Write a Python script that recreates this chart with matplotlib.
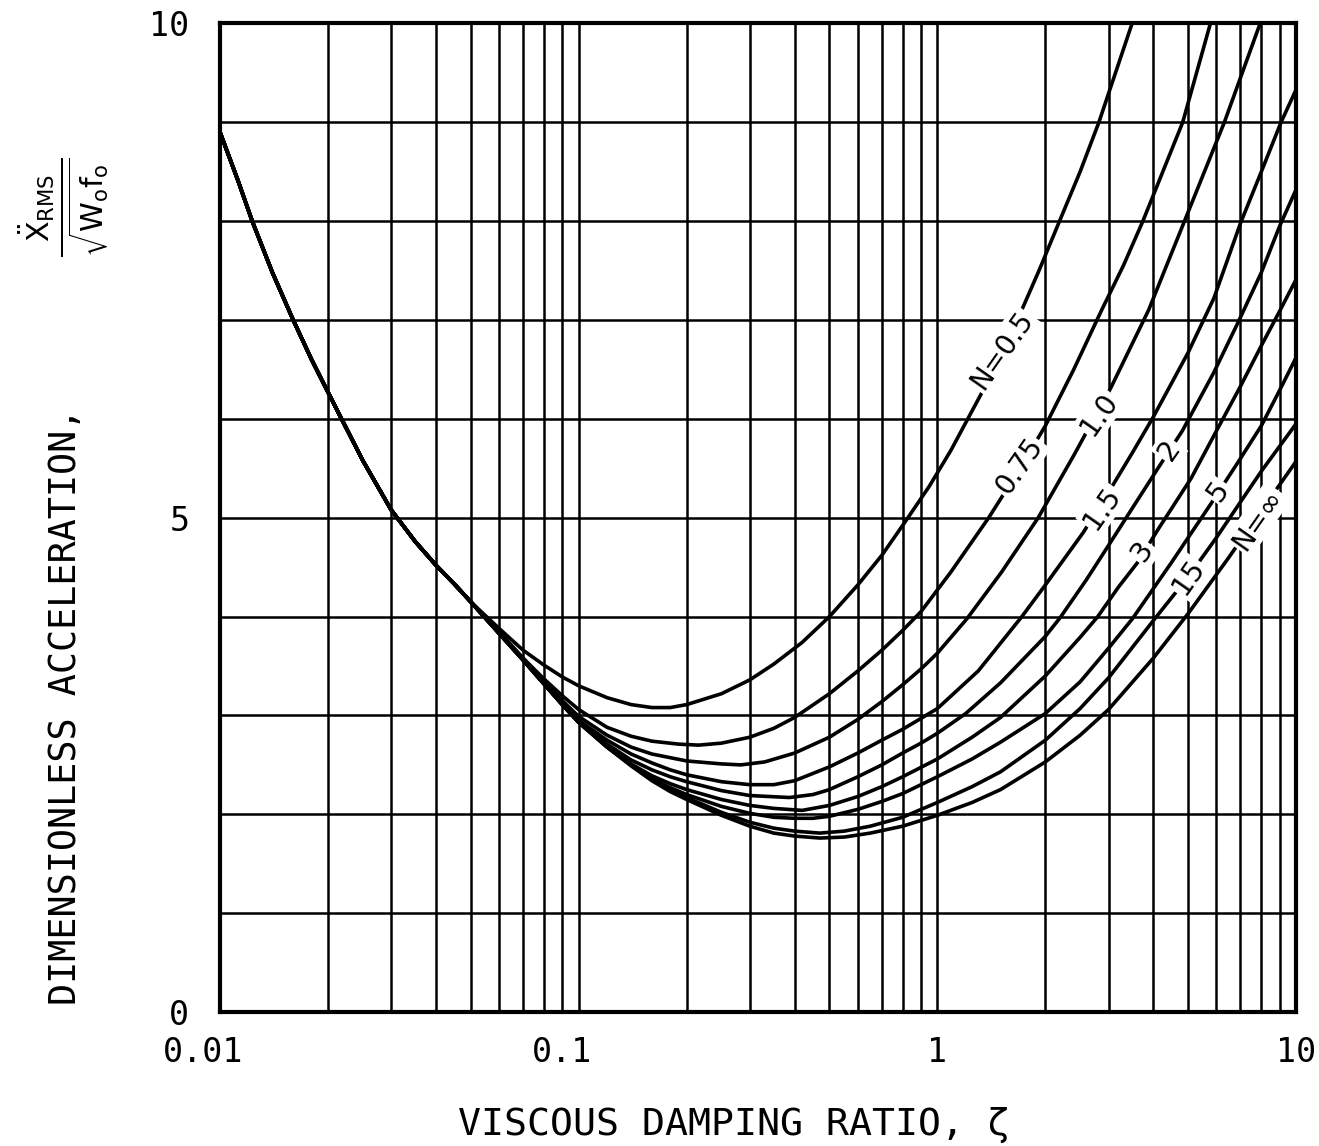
import numpy as np
import matplotlib
matplotlib.use("Agg")
from matplotlib import pyplot as plt
from matplotlib import transforms
from matplotlib.ticker import FixedLocator, LogLocator, NullFormatter

plt.rcParams["mathtext.fontset"] = "dejavusans"

# part shared by every curve (small damping)
zeta_shared = [0.01, 0.0112, 0.0123, 0.014, 0.016, 0.018, 0.02, 0.025, 0.03, 0.035,
               0.04, 0.045, 0.05]
acc_shared = [8.90, 8.42, 8.00, 7.48, 7.00, 6.60, 6.27, 5.58, 5.08, 4.76,
              4.52, 4.33, 4.15]

# N = 0.5
zeta_n05 = [0.06, 0.07, 0.08, 0.09, 0.1, 0.12, 0.14, 0.16, 0.18, 0.2, 0.25, 0.3, 0.35,
            0.42, 0.5, 0.6, 0.7, 0.81, 0.95, 1.09, 1.36, 1.69, 1.92, 2.19, 2.5, 2.82, 3.49]
acc_n05 = [3.88, 3.66, 3.51, 3.39, 3.30, 3.18, 3.11, 3.08, 3.08, 3.11, 3.22, 3.36, 3.52,
           3.74, 4.0, 4.32, 4.62, 4.95, 5.32, 5.68, 6.33, 7.04, 7.50, 8.0, 8.5, 9.0, 10.0]

# N = 0.75
zeta_n075 = [0.06, 0.07, 0.08, 0.09, 0.1, 0.12, 0.14, 0.16, 0.19, 0.216, 0.25, 0.3,
             0.35, 0.4, 0.5, 0.6, 0.7, 0.8, 0.9, 1.09, 1.39, 1.7, 2.0, 2.4, 2.87, 3.3,
             3.74, 4.83, 5.77]
acc_n075 = [3.85, 3.58, 3.37, 3.20, 3.06, 2.88, 2.79, 2.74, 2.71, 2.70, 2.72, 2.78,
            2.87, 2.98, 3.22, 3.45, 3.66, 3.86, 4.05, 4.45, 5.0, 5.5, 5.93, 6.5, 7.1, 7.55,
            8.0, 9.0, 10.0]

# N = 1.0
zeta_n1 = [0.07, 0.08, 0.09, 0.1, 0.12, 0.14, 0.16, 0.2, 0.25, 0.283, 0.33, 0.4, 0.5,
           0.6, 0.7, 0.8, 0.9, 1.0, 1.21, 1.51, 1.91, 2.4, 3.05, 3.88, 4.86, 6.31, 7.94]
acc_n1 = [3.57, 3.35, 3.15, 2.99, 2.80, 2.68, 2.61, 2.54, 2.51, 2.50, 2.53, 2.62, 2.78,
          2.96, 3.14, 3.31, 3.47, 3.63, 3.98, 4.45, 5.0, 5.63, 6.32, 7.1, 7.98, 9.0, 10.0]

# N = 1.5
zeta_n15 = [0.08, 0.09, 0.1, 0.12, 0.14, 0.16, 0.18, 0.2, 0.25, 0.3, 0.35, 0.4, 0.5,
            0.6, 0.7, 0.8, 0.9, 1.0, 1.3, 1.72, 2.0, 2.55, 3.05, 3.5, 4.0, 5.0, 5.9,
            7.0, 8.0, 9.08, 10.0]
acc_n15 = [3.33, 3.12, 2.95, 2.75, 2.61, 2.52, 2.45, 2.40, 2.33, 2.30, 2.30, 2.34, 2.48,
           2.62, 2.75, 2.86, 2.97, 3.07, 3.45, 4.0, 4.32, 4.85, 5.30, 5.66, 6.02, 6.67, 7.22,
           7.98, 8.5, 9.0, 9.33]

# N = 2
zeta_n2 = [0.06, 0.07, 0.08, 0.09, 0.1, 0.12, 0.14, 0.16, 0.18, 0.2, 0.25, 0.3, 0.387,
           0.45, 0.5, 0.6, 0.7, 0.8, 0.9, 1.0, 1.2, 1.5, 2.0, 2.2, 2.6, 3.0, 3.5, 4.12,
           4.82, 5.9, 6.9, 8.0, 9.0, 10.0]
acc_n2 = [3.83, 3.56, 3.32, 3.11, 2.94, 2.71, 2.55, 2.45, 2.38, 2.33, 2.24, 2.19, 2.17,
          2.20, 2.25, 2.38, 2.50, 2.62, 2.72, 2.82, 3.02, 3.33, 3.80, 3.99, 4.37, 4.72,
          5.10, 5.50, 5.88, 6.47, 6.98, 7.48, 7.95, 8.32]

# N = 3
zeta_n3 = [0.06, 0.07, 0.08, 0.09, 0.1, 0.12, 0.14, 0.16, 0.18, 0.2, 0.25, 0.3, 0.35,
           0.42, 0.5, 0.6, 0.7, 0.8, 1.0, 1.25, 1.5, 2.0, 2.5, 2.8, 3.2, 3.62, 4.12, 5.1,
           6.0, 7.0, 8.0, 9.0, 10.0]
acc_n3 = [3.83, 3.56, 3.32, 3.11, 2.93, 2.69, 2.51, 2.39, 2.31, 2.25, 2.15, 2.09, 2.06,
          2.04, 2.09, 2.18, 2.28, 2.38, 2.56, 2.78, 2.98, 3.40, 3.79, 4.0, 4.30, 4.55, 4.88,
          5.40, 5.88, 6.33, 6.74, 7.09, 7.41]

# N = 5
zeta_n5 = [0.06, 0.07, 0.08, 0.09, 0.1, 0.12, 0.14, 0.16, 0.18, 0.2, 0.25, 0.3, 0.35,
           0.4, 0.45, 0.5, 0.6, 0.7, 0.8, 1.0, 1.25, 1.5, 2.0, 2.5, 3.0, 3.5, 4.5, 5.86,
           7.0, 8.0, 9.0, 10.0]
acc_n5 = [3.83, 3.56, 3.32, 3.11, 2.93, 2.68, 2.50, 2.36, 2.27, 2.20, 2.08, 2.01, 1.97,
          1.96, 1.96, 1.98, 2.05, 2.13, 2.21, 2.38, 2.56, 2.73, 3.02, 3.34, 3.68, 3.98,
          4.55, 5.17, 5.60, 5.93, 6.29, 6.62]

# N = 15
zeta_n15b = [0.06, 0.07, 0.08, 0.09, 0.1, 0.12, 0.14, 0.16, 0.18, 0.2, 0.25, 0.3, 0.35,
             0.4, 0.47, 0.55, 0.65, 0.8, 1.0, 1.25, 1.5, 2.0, 2.5, 3.0, 4.0, 5.0, 6.0,
             7.0, 8.0, 10.0]
acc_n15b = [3.83, 3.56, 3.32, 3.11, 2.93, 2.68, 2.50, 2.35, 2.25, 2.17, 2.02, 1.92, 1.86,
            1.83, 1.81, 1.83, 1.88, 1.97, 2.12, 2.28, 2.43, 2.75, 3.07, 3.38, 3.96, 4.40,
            4.80, 5.16, 5.47, 5.95]

# N = infinity
zeta_ninf = [0.06, 0.07, 0.08, 0.09, 0.1, 0.12, 0.14, 0.16, 0.18, 0.2, 0.25, 0.3, 0.35,
             0.4, 0.47, 0.55, 0.65, 0.8, 1.0, 1.25, 1.5, 2.0, 2.5, 3.0, 4.0, 5.0, 6.47,
             8.0, 10.0]
acc_ninf = [3.83, 3.56, 3.32, 3.11, 2.93, 2.68, 2.49, 2.34, 2.23, 2.15, 1.99, 1.88, 1.81,
            1.78, 1.76, 1.77, 1.81, 1.88, 1.99, 2.12, 2.25, 2.53, 2.80, 3.06, 3.58, 4.03,
            4.59, 5.07, 5.57]

curves = [(zeta_n05, acc_n05), (zeta_n075, acc_n075), (zeta_n1, acc_n1),
          (zeta_n15, acc_n15), (zeta_n2, acc_n2), (zeta_n3, acc_n3),
          (zeta_n5, acc_n5), (zeta_n15b, acc_n15b), (zeta_ninf, acc_ninf)]

# curve labels, placed on the curves
label_text = ["N=0.5", "0.75", "1.0", "1.5", "2", "3", "5", "15", "N=\u221e"]
label_zeta = [1.51, 1.69, 2.83, 2.88, 4.43, 3.72, 6.06, 5.0, 7.83]
label_acc = [6.69, 5.52, 6.05, 5.10, 5.68, 4.66, 5.27, 4.40, 4.98]

x_ticks = [0.01, 0.1, 1, 10]
x_ticklabels = ["0.01", "0.1", "1", "10"]
y_ticks = [0, 5, 10]

mono = "DejaVu Sans Mono"

fig = plt.figure(figsize=(13.19, 11.46), dpi=100)
ax = fig.add_axes([0.1668, 0.1169, 0.8158, 0.8626])

for zeta, acc in curves:
    ax.plot(zeta_shared + zeta, acc_shared + acc, color="black", lw=2.6,
            solid_joinstyle="round", solid_capstyle="round", zorder=3)

for text, x, y in zip(label_text, label_zeta, label_acc):
    ax.text(x, y, text, rotation=55, ha="center", va="center", rotation_mode="anchor",
            fontsize=20, family="DejaVu Sans", zorder=4,
            bbox=dict(facecolor="white", edgecolor="none", pad=1.5))

###
# axes / grid
ax.set_xscale("log")
ax.set_xlim(0.01, 10)
ax.set_ylim(0, 10)
ax.xaxis.set_major_locator(FixedLocator(x_ticks))
ax.xaxis.set_minor_locator(LogLocator(base=10, subs=np.arange(2, 10)))
ax.xaxis.set_minor_formatter(NullFormatter())
ax.set_xticklabels(x_ticklabels)
ax.yaxis.set_major_locator(FixedLocator(y_ticks))
ax.yaxis.set_minor_locator(FixedLocator(list(range(11))))
ax.grid(which="both", color="black", lw=1.8, zorder=1)
ax.set_axisbelow(True)
ax.tick_params(which="both", length=0)
ax.tick_params(axis="x", pad=17, labelsize=24)
ax.tick_params(axis="y", pad=22, labelsize=24)
for lbl in ax.get_xticklabels() + ax.get_yticklabels():
    lbl.set_family(mono)
for spine in ax.spines.values():
    spine.set_linewidth(3)

# the two small labels sit a bit left of their tick
shift = transforms.ScaledTranslation(-0.17, 0, fig.dpi_scale_trans)
for lbl in ax.get_xticklabels()[:2]:
    lbl.set_transform(lbl.get_transform() + shift)

###
# Titles/Labels
ax.set_xlabel("VISCOUS DAMPING RATIO, \u03b6", family=mono, fontsize=27.5, va="center")
ax.xaxis.set_label_coords(0.478, -0.114)
fig.text(66 / 1319, 1 - 1005 / 1146, "DIMENSIONLESS ACCELERATION,", family=mono,
         fontsize=26.5, rotation=90, ha="center", va="bottom")
fig.text(64 / 1319, 1 - 207 / 1146,
         r"$\frac{\ddot{\mathrm{X}}_{\mathrm{RMS}}}{\sqrt{\mathrm{W_o f_o}}}$",
         fontsize=31, rotation=90, ha="center", va="center")

fig.savefig("out.png", dpi=100)
